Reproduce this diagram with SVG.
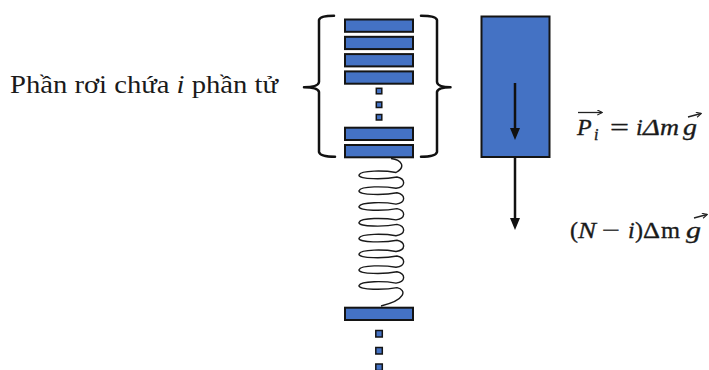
<svg xmlns="http://www.w3.org/2000/svg" width="709" height="370" viewBox="0 0 709 370">
<defs>
<style>
.bar{fill:#4472C4;stroke:#141414;stroke-width:2}
.dot{fill:#4472C4;stroke:#141414;stroke-width:1.5}
.brace{fill:none;stroke:#111;stroke-width:2.5;stroke-linejoin:round;stroke-linecap:round}
.spring{fill:none;stroke:#1a1a1a;stroke-width:1.4}
.arr{stroke:#111;stroke-width:2.5;fill:none}
.vec{stroke:#222;stroke-width:1.3;fill:none}
.lbl{font-family:"Liberation Serif",serif;fill:#1a1a1a}
.math{stroke:#1a1a1a;stroke-width:0.35}
.it{font-style:italic}
</style>
<marker id="ah" viewBox="0 0 12 10" markerUnits="userSpaceOnUse" markerWidth="12" markerHeight="10" refX="6" refY="5" orient="auto">
<path d="M0,0 L12,5 L0,10 z" fill="#111"/>
</marker>
<marker id="vh" viewBox="0 0 7 7" markerUnits="userSpaceOnUse" markerWidth="6" markerHeight="6" refX="6" refY="3.5" orient="auto">
<path d="M0.5,0.5 L6.5,3.5 L0.5,6.5" fill="none" stroke="#222" stroke-width="1.3"/>
</marker>
</defs>
<rect width="709" height="370" fill="#fff"/>

<g id="label-falling">
<text class="lbl" x="10" y="93" font-size="25" textLength="268" lengthAdjust="spacingAndGlyphs">Phần rơi chứa <tspan class="it">i</tspan> phần tử</text>
</g>

<g id="brace-left">
<path class="brace" d="M334 15.8 Q320 15.8 319 20 L319 82 Q318.5 87 304 87.3 Q318.5 87.6 319 92 L319 152 Q320 156.8 335 156.8"/>
</g>
<g id="brace-right">
<path class="brace" d="M421 15.8 Q436 15.8 437 20 L437 82 Q437.5 87 450.5 87.3 Q437.5 87.6 437 92 L437 152 Q436 156.8 421 156.8"/>
</g>

<g id="falling-stack">
<rect class="bar" x="345" y="19.5" width="68" height="12.3"/>
<rect class="bar" x="345" y="36.8" width="68" height="12.3"/>
<rect class="bar" x="345" y="54.1" width="68" height="12.3"/>
<rect class="bar" x="345" y="71.4" width="68" height="12.3"/>
<rect class="dot" x="376.3" y="88.3" width="5.5" height="5.5"/>
<rect class="dot" x="376.3" y="102" width="5.5" height="5.5"/>
<rect class="dot" x="376.3" y="114.5" width="5.5" height="5.5"/>
<rect class="bar" x="345" y="127.7" width="68" height="12.3"/>
<rect class="bar" x="345" y="145" width="68" height="12.3"/>
</g>

<g id="spring">
<path class="spring" d="M391 158.5 C402 160 406 167 396 172.5
C385 170.5 361 170 359 175 C358 179.5 385 179.5 397 177 C406 179 406 187 396 188.3
C385 186.3 361 185.8 359 190.8 C358 195.3 385 195.3 397 192.8 C406 194.8 406 202.8 396 204.1
C385 202.1 361 201.6 359 206.6 C358 211.1 385 211.1 397 208.6 C406 210.6 406 218.6 396 219.9
C385 217.9 361 217.4 359 222.4 C358 226.9 385 226.9 397 224.4 C406 226.4 406 234.4 396 235.7
C385 233.7 361 233.2 359 238.2 C358 242.7 385 242.7 397 240.2 C406 242.2 406 250.2 396 251.5
C385 249.5 361 249 359 254 C358 258.5 385 258.5 397 256 C406 258 406 266 396 267.3
C385 265.3 361 264.8 359 269.8 C358 274.3 385 274.3 397 271.8 C406 273.8 406 281.8 396 283.1
C385 281.1 361 280.6 359 285.6 C358 290.1 385 290.1 397 287.6 C407 290 406 300 381 306"/>
</g>

<g id="rest-stack">
<rect class="bar" x="345" y="307.7" width="68" height="12.3"/>
<rect class="dot" x="375.8" y="330.5" width="6.5" height="6.5"/>
<rect class="dot" x="375.8" y="347.5" width="6.5" height="6.5"/>
<rect class="dot" x="375.8" y="364" width="6.5" height="6.5"/>
</g>

<g id="block">
<rect class="bar" x="481.5" y="16.5" width="68" height="140.5"/>
</g>

<g id="connectors">
<line class="arr" x1="515" y1="83" x2="515" y2="134" marker-end="url(#ah)"/>
<line class="arr" x1="515" y1="157" x2="515" y2="224" marker-end="url(#ah)"/>
</g>

<g id="formula-pi">
<text class="lbl math" y="135" font-size="24"><tspan class="it" x="577">P</tspan><tspan class="it" x="594" y="140" font-size="16">i</tspan><tspan x="610" y="135" textLength="19" lengthAdjust="spacingAndGlyphs">=</tspan><tspan class="it" x="636">i</tspan><tspan class="it" x="643" textLength="17" lengthAdjust="spacingAndGlyphs">Δ</tspan><tspan class="it" x="660" textLength="19" lengthAdjust="spacingAndGlyphs">m</tspan><tspan class="it" x="683" textLength="14" lengthAdjust="spacingAndGlyphs">g</tspan></text>
<line class="vec" x1="578" y1="112.5" x2="602" y2="112.5" marker-end="url(#vh)"/>
<line class="vec" x1="688" y1="117" x2="701" y2="113.5" marker-end="url(#vh)"/>
</g>

<g id="formula-rest">
<text class="lbl math" y="238" font-size="24"><tspan x="570">(</tspan><tspan class="it" x="578" textLength="18" lengthAdjust="spacingAndGlyphs">N</tspan><tspan x="602" textLength="18" lengthAdjust="spacingAndGlyphs">−</tspan><tspan class="it" x="628">i</tspan><tspan x="635">)</tspan><tspan x="643" textLength="17" lengthAdjust="spacingAndGlyphs">Δ</tspan><tspan x="661" textLength="19" lengthAdjust="spacingAndGlyphs">m</tspan><tspan class="it" x="686" textLength="15" lengthAdjust="spacingAndGlyphs">g</tspan></text>
<line class="vec" x1="694" y1="218" x2="707" y2="214.5" marker-end="url(#vh)"/>
</g>
</svg>
